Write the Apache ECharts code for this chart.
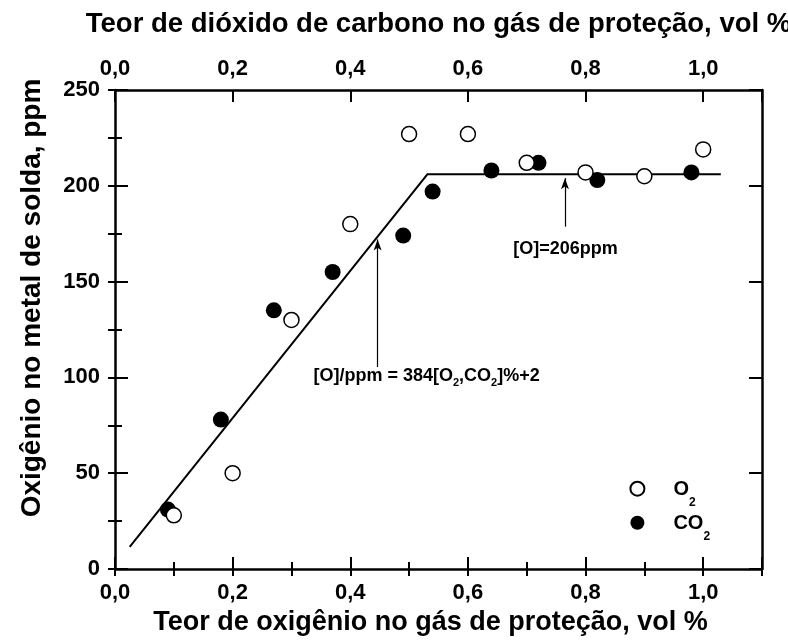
<!DOCTYPE html>
<html>
<head>
<meta charset="utf-8">
<script src="https://cdn.jsdelivr.net/npm/echarts@6/dist/echarts.min.js"></script>
<style>
  html, body { margin: 0; padding: 0; background: #fff; }
  #chart { width: 788px; height: 644px; }
</style>
</head>
<body>
<div id="chart"></div>
<script>
// Oxygen content of the weld metal vs. active gas content of the shielding gas
const o2Content  = [0.10, 0.20, 0.30, 0.40, 0.50, 0.60, 0.70, 0.80, 0.90, 1.00];
const o2Oxygen   = [28, 50, 130, 180, 227, 227, 212, 207, 205, 219];
const co2Content = [0.09, 0.18, 0.27, 0.37, 0.49, 0.54, 0.64, 0.72, 0.82, 0.98];
const co2Oxygen  = [31, 78, 135, 155, 174, 197, 208, 212, 203, 207];

// Trend line vertices: [O]/ppm = 384[O2,CO2]%+2, then the 206 ppm plateau
const fitContent = [0.025, 0.531, 1.03];
const fitOxygen  = [11.6, 206, 206];

// Axis ticks and labels
const xTickValues = [0.0, 0.2, 0.4, 0.6, 0.8, 1.0];
const xTickLabels = ['0,0', '0,2', '0,4', '0,6', '0,8', '1,0'];
const yTickValues = [0, 50, 100, 150, 200, 250];

// Callout arrows (from -> to) in data units
const arrowFrom = [[0.4465, 105.4], [0.765, 178.7]];
const arrowTo   = [[0.4465, 172.0], [0.765, 204.0]];

const FONT = "'Liberation Sans', Arial, Helvetica, sans-serif";
const BLACK = '#000';

const zip = (xs, ys) => xs.map((x, i) => [x, ys[i]]);

function xLabel(v) {
  const i = xTickValues.findIndex(t => Math.abs(t - v) < 1e-6);
  return i >= 0 ? xTickLabels[i] : '';
}

function majorX(position, name, nameGap, labelMargin, nameSize, namePadding) {
  return {
    type: 'value', position, min: 0, max: 1.1, interval: 0.2,
    axisLine: { show: true, onZero: false, lineStyle: { color: BLACK, width: 2.5 } },
    axisTick: { show: true, inside: true, length: 12, lineStyle: { color: BLACK, width: 2 } },
    axisLabel: { show: true, margin: labelMargin, fontSize: 22, fontWeight: 'bold',
                 fontFamily: FONT, color: BLACK, formatter: xLabel },
    splitLine: { show: false },
    name, nameLocation: 'middle', nameGap,
    nameTextStyle: { fontSize: nameSize, fontWeight: 'bold', fontFamily: FONT, color: BLACK,
                     padding: namePadding }
  };
}
function minorX(position) {
  return {
    type: 'value', position, min: 0, max: 1.1, interval: 0.1,
    axisLine: { show: false },
    axisTick: { show: true, inside: true, length: 7, lineStyle: { color: BLACK, width: 2 } },
    axisLabel: { show: false }, splitLine: { show: false }
  };
}
function majorY(position, showLabels) {
  return {
    type: 'value', position, min: 0, max: 250, interval: 50,
    axisLine: { show: true, onZero: false, lineStyle: { color: BLACK, width: 2.5 } },
    axisTick: { show: true, inside: true, length: 13, lineStyle: { color: BLACK, width: 2 } },
    axisLabel: { show: showLabels, margin: 15, fontSize: 22, fontWeight: 'bold',
                 fontFamily: FONT, color: BLACK,
                 formatter: v => (yTickValues.includes(v) ? String(v) : '') },
    splitLine: { show: false }
  };
}
function minorY(position) {
  return {
    type: 'value', position, min: 0, max: 250, interval: 25,
    axisLine: { show: false },
    axisTick: { show: true, inside: true, length: 7, lineStyle: { color: BLACK, width: 2 } },
    axisLabel: { show: false }, splitLine: { show: false }
  };
}

// Rich text styles for subscripts
const legendRich = {
  m: { fontSize: 20, fontWeight: 'bold', fontFamily: FONT, color: BLACK,
       lineHeight: 20, verticalAlign: 'top', padding: [1, 0, 17, 0] },
  s: { fontSize: 12, fontWeight: 'bold', fontFamily: FONT, color: BLACK,
       lineHeight: 12, verticalAlign: 'top', padding: [18, 0, 0, 0] }
};
const noteRich = {
  m: { fontSize: 18, fontWeight: 'bold', fontFamily: FONT, color: BLACK,
       lineHeight: 18, verticalAlign: 'top', padding: [4, 0, 4, 0] },
  s: { fontSize: 11, fontWeight: 'bold', fontFamily: FONT, color: BLACK,
       lineHeight: 11, verticalAlign: 'top', padding: [14, 0, 0, 0] }
};

const chart = echarts.init(document.getElementById('chart'), null, { renderer: 'canvas' });

chart.setOption({
  animation: false,
  backgroundColor: '#fff',
  grid: { left: 115, right: 26, top: 90, bottom: 75, containLabel: false, outerBoundsMode: 'none' },
  xAxis: [
    majorX('bottom', 'Teor de oxigênio no gás de proteção, vol %', 35, 13, 27, [0, 16, 0, 0]),
    minorX('bottom'),
    majorX('top', 'Teor de dióxido de carbono no gás de proteção, vol %', 52, 10, 27.5, 0),
    minorX('top')
  ],
  yAxis: [
    majorY('left', true),
    minorY('left'),
    majorY('right', false),
    minorY('right')
  ],
  legend: {
    data: ['O2', 'CO2'],
    orient: 'vertical',
    left: 629.4, top: 478.7,
    padding: 0,
    itemGap: -4,
    itemWidth: 62, itemHeight: 14,
    selectedMode: false,
    formatter: name => (name === 'O2' ? '{m|O}{s|2}' : '{m|CO}{s|2}'),
    textStyle: { rich: legendRich }
  },
  graphic: [{
    type: 'text', x: 32, y: 298, rotation: Math.PI / 2,
    style: {
      text: 'Oxigênio no metal de solda, ppm',
      fontSize: 28, fontWeight: 'bold', fontFamily: FONT, fill: BLACK,
      align: 'center', verticalAlign: 'middle'
    }
  }],
  series: [
    {
      name: 'fit', type: 'line', xAxisIndex: 0, yAxisIndex: 0,
      data: zip(fitContent, fitOxygen),
      showSymbol: false, symbol: 'none', silent: true, z: 2,
      lineStyle: { color: BLACK, width: 2 },
      markLine: {
        silent: true, animation: false,
        symbol: ['none', 'arrow'], symbolSize: [6, 11],
        lineStyle: { color: BLACK, width: 1.2, type: 'solid' },
        label: { show: false },
        emphasis: { disabled: true },
        data: arrowFrom.map((p, i) => [{ coord: p }, { coord: arrowTo[i] }])
      }
    },
    {
      name: 'O2', type: 'scatter', xAxisIndex: 0, yAxisIndex: 0,
      data: zip(o2Content, o2Oxygen),
      symbol: 'circle', symbolSize: 15, z: 4,
      itemStyle: { color: '#fff', borderColor: BLACK, borderWidth: 1.5, opacity: 1 }
    },
    {
      name: 'CO2', type: 'scatter', xAxisIndex: 0, yAxisIndex: 0,
      data: zip(co2Content, co2Oxygen),
      symbol: 'circle', symbolSize: 16, z: 3,
      itemStyle: { color: BLACK, borderWidth: 0, opacity: 1 }
    },
    {
      name: 'notes', type: 'scatter', xAxisIndex: 0, yAxisIndex: 0,
      silent: true, symbolSize: 1, z: 5,
      itemStyle: { color: 'rgba(0,0,0,0)', opacity: 1 },
      label: { show: true, position: 'inside' },
      data: [
        { value: [0.5298, 102.8],
          label: { formatter: '{m|[O]/ppm = 384[O}{s|2}{m|,CO}{s|2}{m|]%+2}', rich: noteRich } },
        { value: [0.766, 169],
          label: { formatter: '{m|[O]=206ppm}', rich: noteRich } }
      ]
    }
  ]
});
</script>
</body>
</html>
